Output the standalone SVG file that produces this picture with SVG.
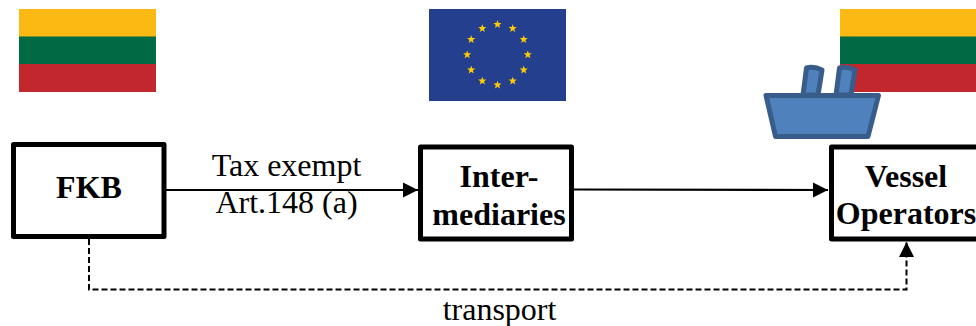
<svg xmlns="http://www.w3.org/2000/svg" xmlns:xlink="http://www.w3.org/1999/xlink" width="976" height="326" viewBox="0 0 976 326">
<style>
text{font-family:"Liberation Serif","Times New Roman",serif;fill:#000;text-anchor:middle}
.b{font-weight:bold;font-size:32px}
.n{font-size:32px}
.box{fill:#fff;stroke:#000;stroke-width:5;stroke-linejoin:round}
.ln{fill:none;stroke:#000;stroke-width:2.2}
.ds{fill:none;stroke:#000;stroke-width:2;stroke-dasharray:6 3}
.ship{fill:#4f81bd;stroke:#385d8a;stroke-width:5;stroke-linejoin:round}
</style>
<defs>
<g id="lt"><rect width="137" height="28" fill="#fdb913"/><rect y="27.500" width="137" height="28" fill="#006a44"/><rect y="55" width="137" height="28" fill="#c1272d"/></g>
<polygon id="s" points="0,-4.300 1.050,-1.400 4.100,-1.400 1.700,0.500 2.550,3.500 0,1.750 -2.550,3.500 -1.700,0.500 -4.100,-1.400 -1.050,-1.400" fill="#ffcc00"/>
<marker id="a" markerUnits="userSpaceOnUse" markerWidth="16" markerHeight="16" viewBox="0 0 16 16" refX="15" refY="8" orient="auto"><path d="M0,0.500L15,8L0,15.500Z" fill="#000"/></marker>
</defs>
<g id="flag-lt-left"><use xlink:href="#lt" x="19" y="9"/></g>
<g id="flag-eu">
<rect x="429" y="9" width="137" height="92" fill="#243f8e"/>
<use xlink:href="#s" x="497.500" y="24.400"/><use xlink:href="#s" x="512.700" y="28.500"/><use xlink:href="#s" x="523.700" y="39.500"/><use xlink:href="#s" x="527.800" y="54.700"/><use xlink:href="#s" x="523.700" y="69.900"/><use xlink:href="#s" x="512.700" y="81"/><use xlink:href="#s" x="497.500" y="85"/><use xlink:href="#s" x="482.300" y="81"/><use xlink:href="#s" x="471.200" y="69.900"/><use xlink:href="#s" x="467.200" y="54.700"/><use xlink:href="#s" x="471.200" y="39.500"/><use xlink:href="#s" x="482.300" y="28.500"/>
</g>
<g id="flag-lt-right"><use xlink:href="#lt" x="840" y="9"/></g>
<g id="ship">
<path class="ship" d="M803,95L806.500,68Q814,66 822,70L818,95Z"/>
<path class="ship" d="M836,95L839.500,68Q847,66 855,70L851,95Z"/>
<path class="ship" d="M766,95.500H878.500L868,136.500H775.500Z"/>
</g>
<g id="connectors">
<path class="ln" d="M166,190H418" marker-end="url(#a)"/>
<path class="ln" d="M574,189.500L828,190" marker-end="url(#a)"/>
<path class="ds" d="M89,239V289.500H906.500V242" marker-end="url(#a)"/>
</g>
<g id="fkb"><rect class="box" x="13.500" y="144.500" width="150.500" height="92"/><text class="b" x="89" y="198">FKB</text></g>
<g id="intermediaries"><rect class="box" x="420.500" y="147" width="151" height="92"/><text class="b" x="499" y="187">Inter-</text><text class="b" x="499" y="225">mediaries</text></g>
<g id="vessel"><rect class="box" x="831.500" y="147" width="152" height="92"/><text class="b" x="906" y="187">Vessel</text><text class="b" x="906" y="224">Operators</text></g>
<g id="labels">
<text class="n" x="286.500" y="176">Tax exempt</text>
<text class="n" x="286.500" y="213">Art.148 (a)</text>
<text class="n" x="499.500" y="320">transport</text>
</g>
</svg>
